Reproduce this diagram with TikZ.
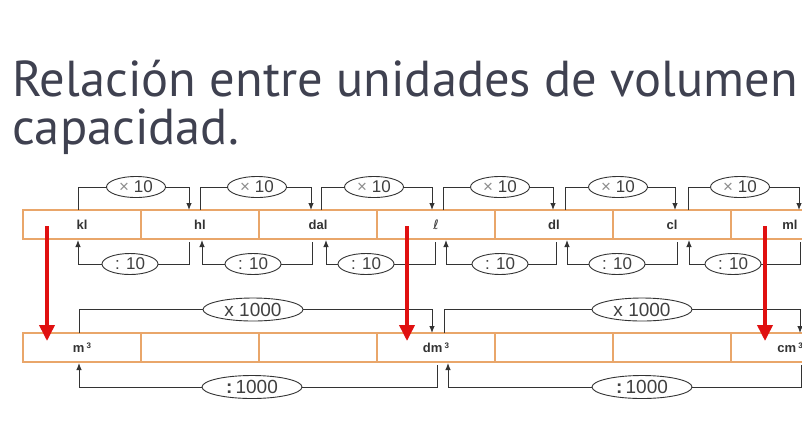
\documentclass[tikz,border=0pt]{standalone}
\usepackage{fontspec}
\setmainfont{Liberation Sans}
\newfontfamily\titlefont{PT Sans}
\newfontfamily\dejavu{DejaVu Sans}
\usetikzlibrary{arrows.meta,shapes.geometric}
\definecolor{titlecol}{HTML}{3F4150}
\definecolor{boxorange}{HTML}{E9A66A}
\definecolor{linegray}{HTML}{333333}
\definecolor{redarrow}{HTML}{E01010}
\tikzset{
  cell/.style={draw=boxorange, line width=1.1pt, minimum width=118pt, minimum height=29pt, inner sep=0pt,
     font=\fontsize{13}{14}\selectfont\bfseries, text=black!80},
  oval/.style={ellipse, draw=linegray, fill=white, line width=0.9pt, inner sep=0pt,
     text=black!75, font=\fontsize{17}{18}\selectfont},
  small/.style={oval, minimum width=59pt, minimum height=21pt},
  big/.style={oval, minimum width=100pt, minimum height=23pt, font=\fontsize{19}{20}\selectfont},
  brk/.style={draw=linegray, line width=0.9pt},
  tip/.style={brk, -{Latex[length=7pt,width=5.5pt]}},
  redarr/.style={draw=redarrow, line width=3.6pt, -{Triangle[length=16pt,width=15pt]}},
  title/.style={font=\titlefont\fontsize{50.5}{55}\selectfont, text=titlecol, anchor=base west, inner sep=0pt}
}
\begin{document}
\begin{tikzpicture}[x=1pt,y=-1pt]
\useasboundingbox (0,0) rectangle (802,421);
\clip (0,0) rectangle (802,421);
\fill[white] (0,0) rectangle (802,421);
% title
\node[title] (t1) at (12,96) {Relación entre unidades de volumen};
\node[title] (t2) at (12,144) {capacidad.};
% top row cells
\foreach \i/\lab in {0/kl,1/hl,2/dal,3/{{\dejavu\mdseries ℓ}},4/dl,5/cl,6/ml}{
  \node[cell] (u\i) at ({23+59+118*\i},224.5) {\lab};
}
% bottom row cells
\foreach \i/\lab in {0/{m\,\raisebox{0.6ex}{\footnotesize 3}},1/{},2/{},3/{dm\,\raisebox{0.6ex}{\footnotesize 3}},4/{},5/{},6/{cm\,\raisebox{0.6ex}{\footnotesize 3}}}{
  \node[cell] (d\i) at ({23+59+118*\i},347.5) {\lab};
}
% upper x10 brackets
\foreach \n/\a/\b/\e in {1/78/189/136,2/200/311/257,3/321/432/374,4/443/553/500,5/565/675/618,6/688/799/740}{
  \node[small] (m\n) at (\e,187) {{\color{black!45}×} 10};
  \coordinate (ms\n) at (\a,210);
  \coordinate (me\n) at (\b,210);
  \draw[brk] (ms\n) |- (m\n.west);
  \draw[tip] (m\n.east) -| (me\n);
}
% lower :10 brackets
\foreach \n/\a/\b/\e in {1/78/189/130,2/202/312/253,3/326/435/366,4/446/556/500,5/567/677/617,6/689/800/733}{
  \node[small, minimum width=56pt] (q\n) at (\e,264) {: 10};
  \coordinate (qs\n) at (\a,240);
  \coordinate (qe\n) at (\b,242);
  \draw[tip] (q\n.west) -| (qs\n);
  \draw[brk] (q\n.east) -| (qe\n);
}
% x1000 brackets
\foreach \n/\a/\b/\e in {1/79/432/253,2/444/800/642}{
  \node[big] (k\n) at (\e,309.5) {x 1000};
  \coordinate (ks\n) at (\a,333);
  \coordinate (ke\n) at (\b,333);
  \draw[brk] (ks\n) |- (k\n.west);
  \draw[tip] (k\n.east) -| (ke\n);
}
% :1000 brackets
\foreach \n/\a/\b/\e in {1/79/437/252,2/448/801/642}{
  \node[big] (z\n) at (\e,387) {\textbf{:}\,1000};
  \coordinate (zs\n) at (\a,363);
  \coordinate (ze\n) at (\b,365);
  \draw[tip] (z\n.west) -| (zs\n);
  \draw[brk] (z\n.east) -| (ze\n);
}
% red arrows
\foreach \n/\x in {1/47,2/407,3/765}{
  \coordinate (rs\n) at (\x,226);
  \coordinate (re\n) at (\x,341);
  \draw[redarr] (rs\n) -- (re\n);
}
\end{tikzpicture}
\end{document}
